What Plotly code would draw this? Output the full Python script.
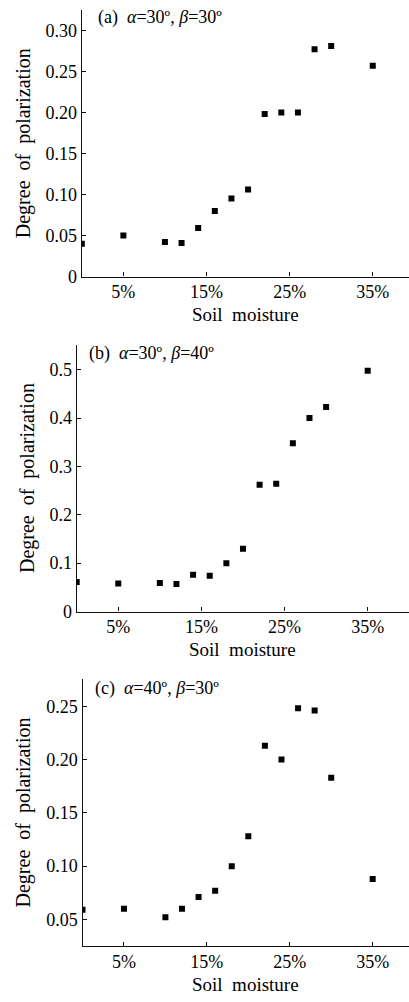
import plotly.graph_objects as go

# ---- data ----
moisture = [0, 5, 10, 12, 14, 16, 18, 20, 22, 24, 26, 28, 30, 35]
dop_a = [0.040, 0.050, 0.042, 0.041, 0.059, 0.080, 0.095, 0.106, 0.198, 0.200, 0.200, 0.277, 0.281, 0.257]
dop_b = [0.061, 0.058, 0.059, 0.057, 0.076, 0.074, 0.100, 0.130, 0.262, 0.264, 0.348, 0.400, 0.423, 0.498]
dop_c = [0.059, 0.060, 0.052, 0.060, 0.071, 0.077, 0.100, 0.128, 0.213, 0.200, 0.248, 0.246, 0.183, 0.088]

x_tickvals = [5, 15, 25, 35]
x_ticktext = ["5%", "15%", "25%", "35%"]
ya_vals = [0, 0.05, 0.10, 0.15, 0.20, 0.25, 0.30]
ya_text = ["0", "0.05", "0.10", "0.15", "0.20", "0.25", "0.30"]
yb_vals = [0, 0.1, 0.2, 0.3, 0.4, 0.5]
yb_text = ["0", "0.1", "0.2", "0.3", "0.4", "0.5"]
yc_vals = [0.05, 0.10, 0.15, 0.20, 0.25]
yc_text = ["0.05", "0.10", "0.15", "0.20", "0.25"]

panel_labels = ["(a)  <i>α</i>=30º, <i>β</i>=30º",
                "(b)  <i>α</i>=30º, <i>β</i>=40º",
                "(c)  <i>α</i>=40º, <i>β</i>=30º"]
x_title = "Soil\u00a0\u00a0moisture"
y_title = "Degree\u00a0\u00a0of\u00a0\u00a0polarization"

W, H = 409, 1002
FONT = "Liberation Serif, Times New Roman, serif"
INK = "#000"

fig = go.Figure()

series = [dop_a, dop_b, dop_c]
for i, ys in enumerate(series):
    fig.add_trace(go.Scatter(
        x=moisture, y=ys, mode="markers",
        marker=dict(symbol="square", size=6, color="black"),
        xaxis="x" if i == 0 else f"x{i+1}",
        yaxis="y" if i == 0 else f"y{i+1}",
        showlegend=False, cliponaxis=True,
    ))

# panel geometry in pixels
panels = [
    (81.8, 10, 279.3, 39.36, [0, 0.325], ya_vals, ya_text, 23, 318, 96, 18),
    (76.7, 348, 617.7, 39.97, [0, 0.552], yb_vals, yb_text, 27, 656, 87, 357),
    (82.5, 686, 955.3, 39.38, [0.0253, 0.2754], yc_vals, yc_text, 23, 994, 93, 695),
]

axis_common = dict(showline=True, linecolor="#111", linewidth=1.3,
                   ticks="inside", ticklen=4, tickwidth=1, tickcolor="#111",
                   showgrid=False, zeroline=False,
                   tickfont=dict(family=FONT, size=18, color=INK))

layout = dict(width=W, height=H, margin=dict(l=0, r=0, t=0, b=0),
              paper_bgcolor="white", plot_bgcolor="white",
              font=dict(family=FONT, color=INK))
annotations = []
for i, (left, top, bottom, xmax, yr, yv, yt, ytx, xty, lx, ly) in enumerate(panels):
    xk = "xaxis" if i == 0 else f"xaxis{i+1}"
    yk = "yaxis" if i == 0 else f"yaxis{i+1}"
    xa = "x" if i == 0 else f"x{i+1}"
    ya = "y" if i == 0 else f"y{i+1}"
    layout[xk] = dict(domain=[left / W, 1], range=[0, xmax], anchor=ya,
                      tickvals=x_tickvals, ticktext=x_ticktext,
                      ticklabelstandoff=-1, **axis_common)
    layout[yk] = dict(domain=[1 - bottom / H, 1 - top / H], range=yr, anchor=xa,
                      tickvals=yv, ticktext=yt, **axis_common)
    annotations.append(dict(text=y_title, textangle=-90, xref="paper", yref="paper",
                            x=ytx / W, y=1 - (top + bottom) / 2 / H,
                            xanchor="center", yanchor="middle", showarrow=False,
                            font=dict(family=FONT, size=20, color=INK)))
    annotations.append(dict(text=x_title, xref="paper", yref="paper",
                            x=(left + 409) / 2 / W, y=1 - xty / H,
                            xanchor="center", yanchor="middle", showarrow=False,
                            font=dict(family=FONT, size=19, color=INK)))
    annotations.append(dict(text=panel_labels[i], xref="paper", yref="paper",
                            x=lx / W, y=1 - ly / H,
                            xanchor="left", yanchor="middle", showarrow=False,
                            font=dict(family=FONT, size=18, color=INK)))
layout["annotations"] = annotations
fig.update_layout(**layout)
fig.write_html("out.html")
